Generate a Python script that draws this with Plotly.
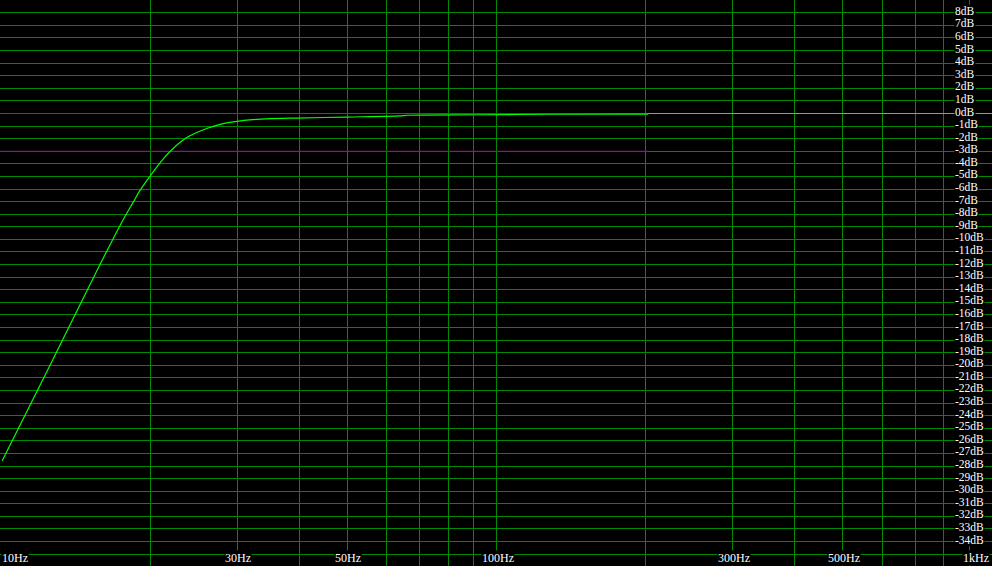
import math
import plotly.graph_objects as go

# ---- data ----
freq_hz = [10.05, 12.56, 15.84, 17.65, 18.49, 19.08, 19.92, 20.62, 21.26, 21.94,
           22.80, 23.71, 24.83, 26.01, 27.25, 28.55, 29.99, 31.80, 34.38, 39.53,
           50.0, 63.9, 66.0, 92.2, 130.0, 202.2]
response_db = [-27.6, -20.0, -12.0, -8.42, -7.04, -6.11, -5.05, -4.25, -3.60, -3.02,
               -2.40, -1.91, -1.51, -1.19, -0.94, -0.75, -0.62, -0.51, -0.42, -0.36,
               -0.28, -0.19, -0.14, -0.10, -0.06, -0.05]

ref_freq = [10, 202.2]
ref_0db = [0, 0]
ref_m3db = [-3, -3]
zero_freq = [10, 1000]
zero_db = [0, 0]

x_grid = [10, 20, 30, 40, 50, 60, 70, 80, 90, 100,
          200, 300, 400, 500, 600, 700, 800, 900, 1000]
x_label_vals = [10, 30, 50, 100, 300, 500, 1000]
x_label_text = ["10Hz", "30Hz", "50Hz", "100Hz", "300Hz", "500Hz", "1kHz"]
y_grid = list(range(-35, 10))
y_label_vals = list(range(8, -35, -1))
y_label_text = [f"{v}dB" for v in y_label_vals]

# ---- figure ----
W, H = 992, 566
px_per_decade = 495.5
px_per_db = 12.59
x_lo = 1 - 1 / px_per_decade
x_hi = x_lo + W / px_per_decade
y_hi = 113.5 / px_per_db
y_lo = y_hi - H / px_per_db

fig = go.Figure()
fig.add_trace(go.Scatter(x=zero_freq, y=zero_db, mode="lines",
                         line=dict(color="#00ff00", width=1), hoverinfo="skip"))
fig.add_trace(go.Scatter(x=ref_freq, y=ref_m3db, mode="lines",
                         line=dict(color="#a000a0", width=1), hoverinfo="skip"))
fig.add_trace(go.Scatter(x=ref_freq, y=ref_0db, mode="lines",
                         line=dict(color="#ff0000", width=1), hoverinfo="skip"))
fig.add_trace(go.Scatter(x=freq_hz, y=response_db, mode="lines",
                         line=dict(color="#00ff00", width=1.2, shape="spline", smoothing=0.8),
                         hoverinfo="skip"))

font = dict(family="Liberation Serif", size=11.5, color="#ffffff")
anns = []
for v, t in zip(y_label_vals, y_label_text):
    anns.append(dict(x=954 / W, xref="paper", y=v, yref="y", text=t,
                     showarrow=False, xanchor="left", yanchor="middle", yshift=2,
                     height=12, valign="middle",
                     bgcolor="#000000", borderpad=0, font=font))
for v, t in zip(x_label_vals, x_label_text):
    if v == x_label_vals[0]:
        xa = "left"
    elif v == x_label_vals[-1]:
        xa = "right"
    else:
        xa = "center"
    anns.append(dict(x=math.log10(v), xref="x", y=0, yref="paper", text=t,
                     showarrow=False, xanchor=xa, yanchor="bottom",
                     xshift=0 if xa == "left" else (-2 if xa == "right" else 1),
                     bgcolor="#000000", borderpad=0,
                     font=dict(family="Liberation Serif", size=12, color="#ffffff")))

grid_style = dict(showgrid=True, gridcolor="#008a00", gridwidth=1,
                  showticklabels=False, ticks="", showline=False)

fig.update_layout(
    width=W, height=H,
    margin=dict(l=0, r=0, t=0, b=0, pad=0),
    paper_bgcolor="#000000", plot_bgcolor="#000000",
    showlegend=False,
    annotations=anns,
    xaxis=dict(type="log", range=[x_lo, x_hi], tickmode="array", tickvals=x_grid,
               zeroline=False, **grid_style),
    yaxis=dict(range=[y_lo, y_hi], tickmode="array", tickvals=y_grid,
               zeroline=False, **grid_style),
)

fig.write_html("out.html", config={"displayModeBar": False},
               post_script="document.body.style.margin='0';document.body.style.background='#000';")
